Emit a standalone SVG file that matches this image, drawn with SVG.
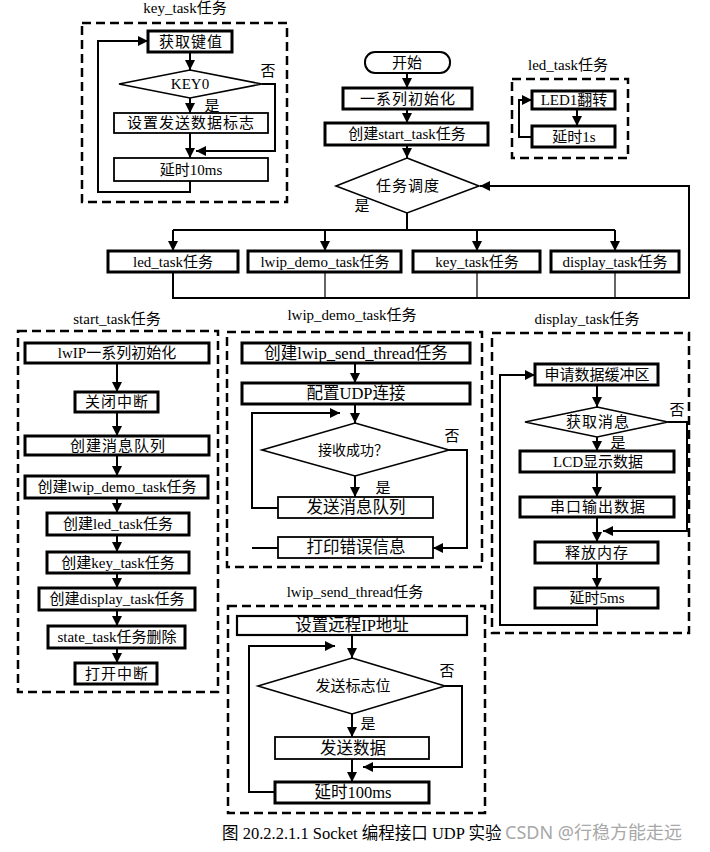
<svg xmlns="http://www.w3.org/2000/svg" width="710" height="852" viewBox="0 0 710 852">
<defs>
<marker id="ah" viewBox="0 0 10 10" refX="10" refY="5" markerWidth="10" markerHeight="10" markerUnits="userSpaceOnUse" orient="auto"><path d="M0,0 L10,5 L0,10 z" fill="#000"/></marker>
<style>
text{font-family:"Liberation Serif","Noto Sans CJK SC",serif;font-size:15px;fill:#000;text-anchor:middle;dominant-baseline:central}
.b{fill:#fff;stroke:#000;stroke-width:3}
.t{fill:#fff;stroke:#000;stroke-width:1.8}
.d{fill:#fff;stroke:#000;stroke-width:1.6}
.f{fill:none;stroke:#000;stroke-width:2.5;stroke-dasharray:9 5}
.c{fill:none;stroke:#000;stroke-width:2}
.a{fill:none;stroke:#000;stroke-width:2;marker-end:url(#ah)}
.th{fill:none;stroke:#000;stroke-width:1.2}
.big{font-size:16.5px}
.sp{letter-spacing:1px}
.wm{font-family:"Noto Sans","Noto Sans CJK SC",sans-serif;font-size:18px;fill:#a8a8a8;text-anchor:start}
</style>
</defs>
<rect width="710" height="852" fill="#fff"/>

<g id="frames">
<rect class="f" x="82" y="23" width="205" height="179"/>
<text x="185" y="8">key_task任务</text>
<rect class="f" x="512" y="79" width="116" height="79"/>
<text x="568" y="65">led_task任务</text>
<rect class="f" x="18" y="331" width="200" height="361"/>
<text x="117" y="319">start_task任务</text>
<rect class="f" x="227" y="332" width="255" height="235"/>
<text x="352" y="315">lwip_demo_task任务</text>
<rect class="f" x="492" y="333" width="197" height="300"/>
<text x="587" y="319">display_task任务</text>
<rect class="f" x="228" y="606" width="257" height="207"/>
<text x="355" y="592">lwip_send_thread任务</text>
</g>

<g id="connectors">
<path class="a" d="M407,73 V88"/>
<path class="a" d="M407,109 V123"/>
<path class="a" d="M407,145 V158"/>
<path class="c" d="M407,213 V230 M173,230 H615"/>
<path class="a" d="M173,230 V251"/>
<path class="a" d="M325,230 V251"/>
<path class="a" d="M477,230 V251"/>
<path class="a" d="M615,230 V251"/>
<path class="a" d="M173,272 V298 H689 V186 H480"/>
<path class="th" d="M325,272 V298 M477,272 V298 M615,272 V298"/>
<path class="a" d="M190,52 V70"/>
<path class="a" d="M190,98 V113"/>
<path class="a" d="M190,133 V158"/>
<path class="a" d="M262,84 H275 V151 H196"/>
<path class="a" d="M190,181 V192 H98 V41 H148"/>
<path class="a" d="M577,109 V126"/>
<path class="a" d="M532,137 H519 V100 H532"/>
<path class="a" d="M117,363 V392"/>
<path class="a" d="M117,412 V436"/>
<path class="a" d="M117,455 V476"/>
<path class="a" d="M117,498 V513"/>
<path class="a" d="M117,535 V552"/>
<path class="a" d="M117,573 V588"/>
<path class="a" d="M117,610 V626"/>
<path class="a" d="M117,648 V663"/>
<path class="a" d="M355,363 V383"/>
<path class="a" d="M355,404 V423"/>
<path class="a" d="M355,476 V497"/>
<path class="a" d="M278,508 H252 V413 H340"/>
<path class="c" d="M278,548 H252"/>
<path class="a" d="M449,450 H467 V548 H433"/>
<path class="a" d="M597,385 V407"/>
<path class="a" d="M597,437 V451"/>
<path class="a" d="M597,472 V497"/>
<path class="a" d="M597,517 V542"/>
<path class="a" d="M597,563 V588"/>
<path class="a" d="M668,422 H687 V531 H603"/>
<path class="a" d="M597,608 V625 H500 V375 H535"/>
<path class="a" d="M352,635 V658"/>
<path class="a" d="M352,714 V737"/>
<path class="a" d="M352,759 V782"/>
<path class="a" d="M275,792 H249 V646 H335"/>
<path class="a" d="M445,686 H462 V767 H363"/>
</g>

<g id="n_start"><rect x="365" y="52" width="85" height="21" rx="10" fill="#fff" stroke="#000" stroke-width="2"/><text x="407" y="62.5">开始</text></g>
<g id="n_init"><rect class="b" x="343" y="88" width="129" height="21"/><text class="sp" x="408" y="98.5">一系列初始化</text></g>
<g id="n_create_start"><rect class="b" x="325" y="123" width="163" height="22"/><text x="407" y="134">创建start_task任务</text></g>
<g id="n_sched"><polygon class="d" points="407,158 479,186 407,213 336,186"/><text class="sp" x="408" y="186">任务调度</text><text x="362" y="206">是</text></g>
<g id="n_led_task"><rect class="b" x="108" y="251" width="130" height="21"/><text x="173" y="261.5">led_task任务</text></g>
<g id="n_lwip_demo_task"><rect class="b" x="248" y="251" width="153" height="21"/><text x="325" y="261.5">lwip_demo_task任务</text></g>
<g id="n_key_task"><rect class="b" x="413" y="251" width="127" height="21"/><text x="477" y="261.5">key_task任务</text></g>
<g id="n_display_task"><rect class="b" x="551" y="251" width="128" height="21"/><text x="615" y="261.5">display_task任务</text></g>

<g id="k_get"><rect class="b" x="148" y="31" width="84" height="21"/><text class="sp" x="191" y="41.5">获取键值</text></g>
<g id="k_dec"><polygon class="d" points="190,70 262,84 190,98 119,84"/><text x="190" y="84">KEY0</text><text x="268" y="71">否</text><text x="212" y="106">是</text></g>
<g id="k_set"><rect class="t" x="114" y="113" width="154" height="20"/><text class="sp" x="191" y="123">设置发送数据标志</text></g>
<g id="k_delay"><rect class="t" x="114" y="158" width="154" height="23"/><text x="191" y="169.5">延时10ms</text></g>

<g id="l_toggle"><rect class="b" x="532" y="91" width="83" height="18"/><text x="574" y="100">LED1翻转</text></g>
<g id="l_delay"><rect class="b" x="532" y="126" width="83" height="21"/><text x="574" y="136.5">延时1s</text></g>

<g id="s1"><rect class="b" x="25" y="343" width="184" height="20"/><text x="117" y="353">lwIP一系列初始化</text></g>
<g id="s2"><rect class="b" x="75" y="392" width="83" height="20"/><text class="sp" x="117" y="402">关闭中断</text></g>
<g id="s3"><rect class="b" x="25" y="436" width="184" height="19"/><text class="sp" x="118" y="445.5">创建消息队列</text></g>
<g id="s4"><rect class="b" x="25" y="476" width="183" height="22"/><text x="117" y="487">创建lwip_demo_task任务</text></g>
<g id="s5"><rect class="b" x="47" y="513" width="142" height="22"/><text x="118" y="524">创建led_task任务</text></g>
<g id="s6"><rect class="b" x="47" y="552" width="142" height="21"/><text x="118" y="562.5">创建key_task任务</text></g>
<g id="s7"><rect class="b" x="39" y="588" width="156" height="22"/><text x="117" y="599">创建display_task任务</text></g>
<g id="s8"><rect class="b" x="48" y="626" width="137" height="22"/><text x="117" y="637">state_task任务删除</text></g>
<g id="s9"><rect class="b" x="75" y="663" width="82" height="21"/><text class="sp" x="117" y="673.5">打开中断</text></g>

<g id="d1"><rect class="b" x="242" y="343" width="228" height="20"/><text class="big" x="356" y="353">创建lwip_send_thread任务</text></g>
<g id="d2"><rect class="b" x="242" y="383" width="228" height="21"/><text class="big" x="356" y="393.5">配置UDP连接</text></g>
<g id="d3"><polygon class="d" points="355,423 449,450 355,476 262,450"/><text x="353" y="450" style="font-size:14px">接收成功？</text><text x="452" y="436">否</text><text x="383" y="488">是</text></g>
<g id="d4"><rect class="t" x="278" y="497" width="155" height="21"/><text class="big" x="356" y="507.5">发送消息队列</text></g>
<g id="d5"><rect class="t" x="278" y="537" width="155" height="21"/><text class="big" x="356" y="547.5">打印错误信息</text></g>

<g id="p1"><rect class="b" x="535" y="364" width="123" height="21"/><text x="597" y="374.5">申请数据缓冲区</text></g>
<g id="p2"><polygon class="d" points="597,407 668,422 597,437 525,422"/><text class="sp" x="598" y="422">获取消息</text><text x="677" y="410">否</text><text x="618" y="443">是</text></g>
<g id="p3"><rect class="b" x="520" y="451" width="154" height="21"/><text x="598" y="461.5">LCD显示数据</text></g>
<g id="p4"><rect class="b" x="520" y="497" width="154" height="20"/><text class="sp" x="598" y="507">串口输出数据</text></g>
<g id="p5"><rect class="b" x="535" y="542" width="123" height="21"/><text class="sp" x="597" y="552.5">释放内存</text></g>
<g id="p6"><rect class="b" x="535" y="588" width="123" height="20"/><text x="597" y="598">延时5ms</text></g>

<g id="t1"><rect x="237" y="616" width="230" height="19" fill="#fff" stroke="#000" stroke-width="2.2"/><text class="big" x="352" y="625.5">设置远程IP地址</text></g>
<g id="t2"><polygon class="d" points="352,658 445,686 352,714 258,686"/><text x="353" y="686">发送标志位</text><text x="447" y="671">否</text><text x="368" y="724">是</text></g>
<g id="t3"><rect class="t" x="275" y="737" width="154" height="22"/><text class="big" x="353" y="748">发送数据</text></g>
<g id="t4"><rect class="b" x="275" y="782" width="154" height="21"/><text class="big" x="353" y="792.5">延时100ms</text></g>

<g id="caption">
<text x="222" y="833" style="font-size:16.5px;text-anchor:start">图 20.2.2.1.1 Socket 编程接口 UDP 实验</text>
<text class="wm" x="505" y="832">CSDN @行稳方能走远</text>
</g>
</svg>
